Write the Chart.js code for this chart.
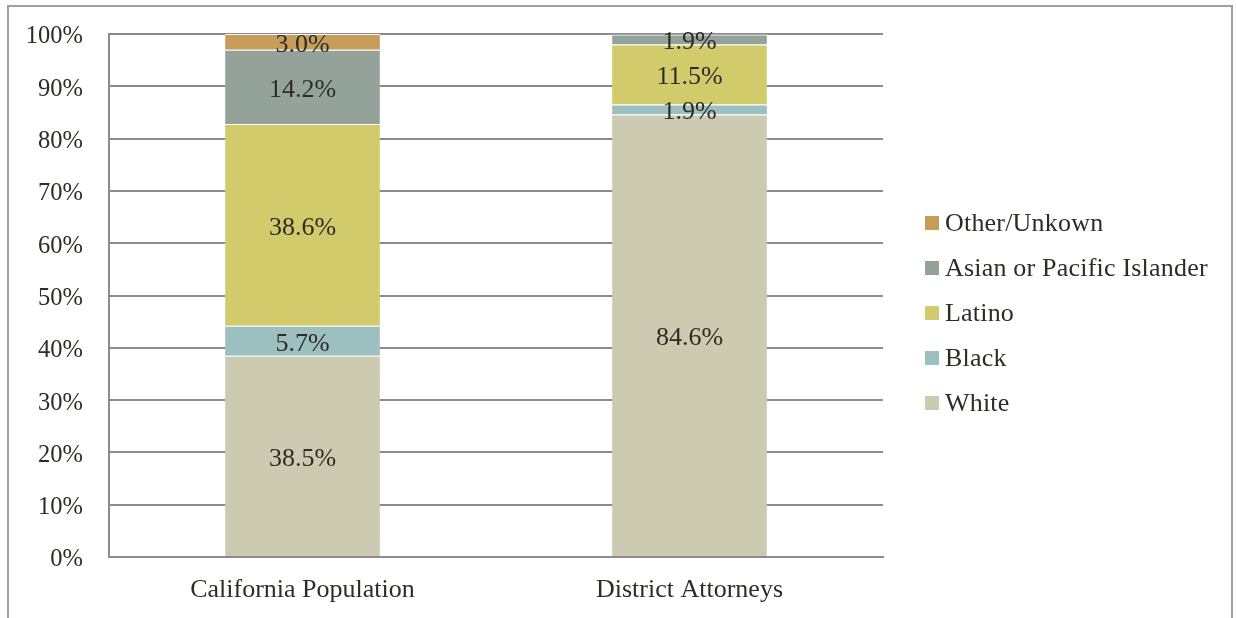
<!DOCTYPE html>
<html>
<head>
<meta charset="utf-8">
<script src="https://cdn.jsdelivr.net/npm/chart.js@4/dist/chart.umd.min.js"></script>
<style>
  html, body { margin: 0; padding: 0; background: #fff; }
  body { width: 1236px; height: 618px; position: relative; overflow: hidden; }
  #frame { position: absolute; left: 7px; top: 5px; width: 1226px; height: 640px; border: 2px solid #a0a0a0; box-sizing: border-box; }
  #wrap { position: absolute; left: 0; top: 0; width: 1236px; height: 618px; }
  #legend { position: absolute; left: 925px; top: 210px; font-family: "Liberation Serif", serif; font-size: 26px; line-height: 26px; color: #2f2c26; white-space: nowrap; letter-spacing: 0.2px; }
  .legend-item { height: 45px; display: flex; align-items: flex-start; }
  .legend-box { width: 14px; height: 14px; margin-right: 6px; margin-top: 6px; flex: none; }
</style>
</head>
<body>
<div id="frame"></div>
<div id="wrap"><canvas id="chart" width="1236" height="618"></canvas></div>
<div id="legend"></div>
<script>
const categorias = ['California Population', 'District Attorneys'];
const grupos = ['White', 'Black', 'Latino', 'Asian or Pacific Islander', 'Other/Unkown'];
const white = [38.5, 84.6];
const black = [5.7, 1.9];
const latino = [38.6, 11.5];
const asian = [14.2, 1.9];
const other = [3.0, 0];
const colores = ['#cccab0', '#9cbfc0', '#d2cb6c', '#94a39a', '#c89d5a'];
const yTicks = [0, 10, 20, 30, 40, 50, 60, 70, 80, 90, 100];

const serie = [white, black, latino, asian, other];
const textColor = '#2f2c26';
const fuente = { family: "'Liberation Serif', serif", size: 26 };

// etiquetas dentro de cada segmento
const etiquetasPlugin = {
  id: 'etiquetas',
  afterDatasetsDraw(chart) {
    const ctx = chart.ctx;
    ctx.save();
    ctx.font = "26px 'Liberation Serif', serif";
    ctx.fillStyle = textColor;
    ctx.textAlign = 'center';
    ctx.textBaseline = 'middle';
    chart.data.datasets.forEach((ds, i) => {
      chart.getDatasetMeta(i).data.forEach((bar, j) => {
        const v = ds.data[j];
        if (!v) return;
        const mid = (bar.y + bar.base) / 2;
        ctx.fillText(v.toFixed(1) + '%', bar.x, mid + 3);
      });
    });
    ctx.restore();
  }
};

const ctx = document.getElementById('chart').getContext('2d');
new Chart(ctx, {
  type: 'bar',
  data: {
    labels: categorias,
    datasets: grupos.map((g, i) => ({
      label: g,
      data: serie[i],
      backgroundColor: colores[i],
      borderColor: '#ffffff',
      borderWidth: { top: 1, left: 0, right: 0, bottom: 0 },
      borderSkipped: false,
      categoryPercentage: 1,
      barPercentage: 0.4
    }))
  },
  options: {
    responsive: false,
    animation: false,
    layout: { padding: { left: 0, top: 34, right: 353, bottom: 0 } },
    plugins: {
      legend: { display: false },
      tooltip: { enabled: false }
    },
    scales: {
      x: {
        stacked: true,
        grid: { display: false, drawTicks: false },
        border: { display: true, color: '#8c8c8c', width: 2 },
        ticks: { color: textColor, font: fuente, padding: 18 },
        afterFit: s => { s.height = 61; }
      },
      y: {
        stacked: true,
        min: 0,
        max: 100,
        afterBuildTicks: s => { s.ticks = yTicks.map(v => ({ value: v })); },
        grid: { color: '#8c8c8c', lineWidth: 2, drawTicks: false },
        border: { display: true, color: '#8c8c8c', width: 2 },
        ticks: { color: textColor, font: { family: fuente.family, size: 24.5 }, padding: 26, labelOffset: 3, callback: v => v + '%' },
        afterFit: s => { s.width = 109; s.paddingTop = 0; s.paddingBottom = 0; }
      }
    }
  },
  plugins: [etiquetasPlugin]
});

// leyenda a la derecha, de arriba (Other) hacia abajo (White)
const leyenda = document.getElementById('legend');
for (let i = grupos.length - 1; i >= 0; i--) {
  const item = document.createElement('div');
  item.className = 'legend-item';
  item.innerHTML = `<span class="legend-box" style="background:${colores[i]}"></span><span>${grupos[i]}</span>`;
  leyenda.appendChild(item);
}
</script>
</body>
</html>
